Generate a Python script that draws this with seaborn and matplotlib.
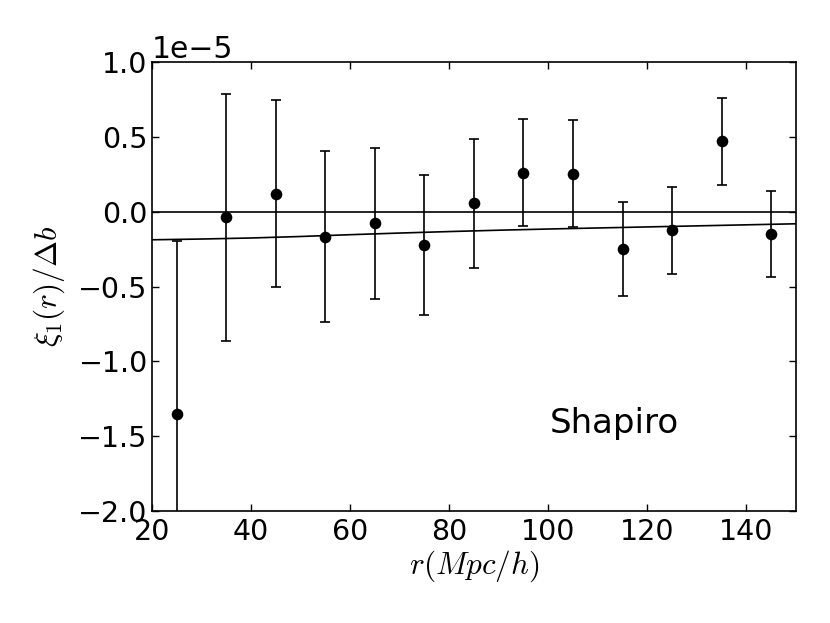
import numpy as np
import pandas as pd
import matplotlib
matplotlib.use('Agg')
import matplotlib.pyplot as plt
import seaborn as sns

# measured points (units of 1e-5)
r_bins = [25, 35, 45, 55, 65, 75, 85, 95, 105, 115, 125, 135, 145]
xi_vals = [-1.35, -0.037, 0.12, -0.168, -0.077, -0.22, 0.057, 0.26, 0.256, -0.25, -0.124, 0.471, -0.149]
xi_errs = [1.155, 0.827, 0.625, 0.572, 0.505, 0.469, 0.432, 0.358, 0.36, 0.314, 0.292, 0.291, 0.286]

# model curve (units of 1e-5)
model_r = [20, 30, 40, 50, 60, 70, 80, 90, 100, 110, 120, 130, 140, 150]
model_xi = [-0.187, -0.182, -0.175, -0.165, -0.153, -0.142, -0.132, -0.123, -0.115, -0.108, -0.101, -0.094, -0.087, -0.08]

scale = 1e-5
df = pd.DataFrame({'r': r_bins, 'xi': np.array(xi_vals) * scale,
                   'err': np.array(xi_errs) * scale})
model = pd.DataFrame({'r': model_r, 'xi': np.array(model_xi) * scale})

sns.set_style('ticks')
plt.rcParams['font.family'] = ['DejaVu Sans']
plt.rcParams['mathtext.fontset'] = 'cm'
for key in ['text.color', 'axes.labelcolor', 'xtick.color', 'ytick.color']:
    plt.rcParams[key] = 'k'

fig = plt.figure(figsize=(8.3, 6.23), dpi=100)
ax = fig.add_axes([0.183, 0.18, 0.776, 0.72])

ax.axhline(0, color='k', lw=1.2)
sns.lineplot(data=model, x='r', y='xi', color='k', lw=1.2, ax=ax)
ax.errorbar(df.r, df.xi, yerr=df.err, fmt='none', ecolor='k',
            elinewidth=1.2, capsize=3.5, capthick=1.2)
sns.scatterplot(data=df, x='r', y='xi', color='k', s=70, edgecolor='k',
                linewidth=0, ax=ax, zorder=3)

ax.set_xlim(20, 150)
ax.set_ylim(-2e-5, 1e-5)
ax.set_xticks([20, 40, 60, 80, 100, 120, 140])
ax.set_yticks(np.arange(-2.0, 1.01, 0.5) * scale)
ax.tick_params(direction='in', top=True, right=True, length=5, width=1,
               labelsize=20.5)
ax.tick_params(axis='y', pad=3)
ax.tick_params(axis='x', pad=5)
ax.yaxis.get_offset_text().set_fontsize(21.5)
for sp in ax.spines.values():
    sp.set_linewidth(1.2)
    sp.set_color('k')

ax.set_xlabel(r'$r(Mpc/h)$', fontsize=22.5, labelpad=2)
ax.set_ylabel(r'$\xi_1(r)/\Delta b$', fontsize=22.5, labelpad=8)
ax.text(100.3, -1.48e-5, 'Shapiro', fontsize=24.5, ha='left', va='baseline')

fig.savefig('out.png', dpi=100)
